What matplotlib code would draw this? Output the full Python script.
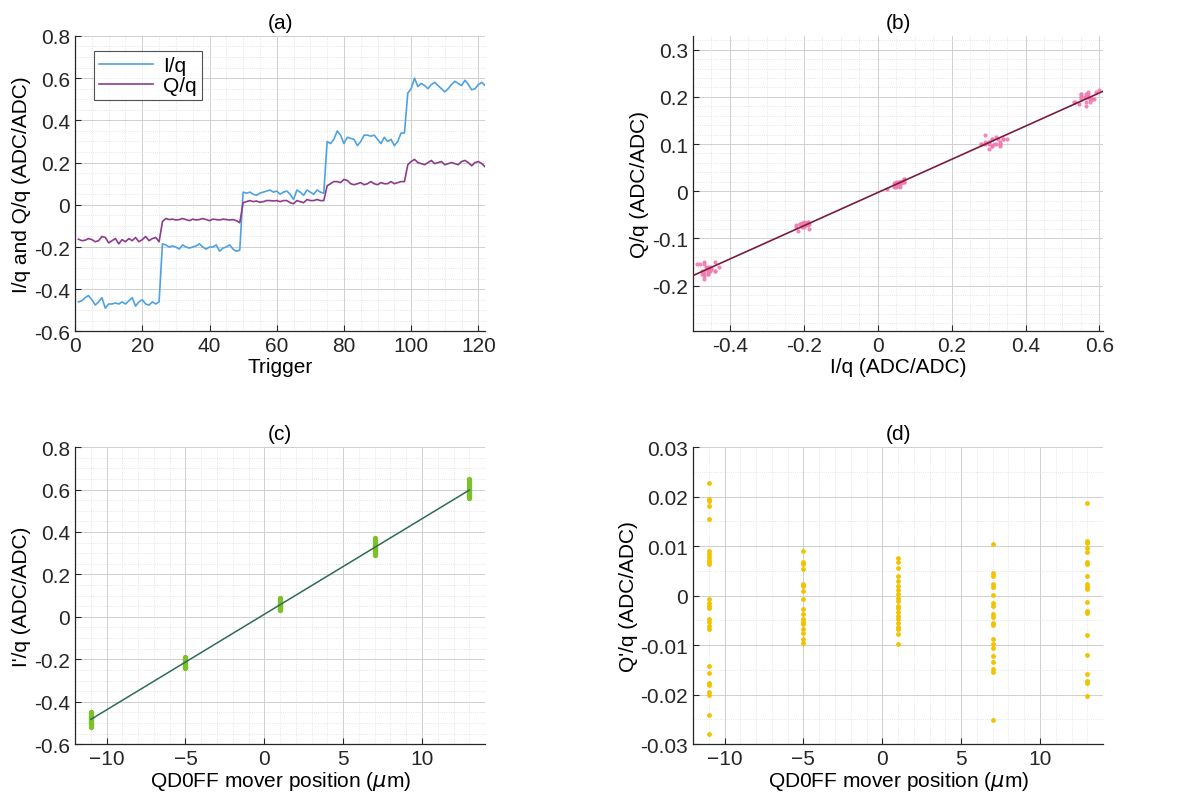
import numpy as np
import matplotlib
matplotlib.use("Agg")
import matplotlib.pyplot as plt
from matplotlib.ticker import AutoMinorLocator, MultipleLocator

plt.rcParams['font.family'] = ['Liberation Sans', 'DejaVu Sans']
plt.rcParams['font.size'] = 15

# I/q and Q/q per trigger, five mover steps
i_q = [-0.46, -0.455, -0.44, -0.43, -0.45, -0.475, -0.46, -0.44, -0.49, -0.47,
       -0.47, -0.465, -0.47, -0.46, -0.47, -0.455, -0.44, -0.48, -0.46, -0.45,
       -0.47, -0.475, -0.46, -0.47, -0.46,
       -0.185, -0.19, -0.2, -0.195, -0.2, -0.21, -0.19, -0.2, -0.205, -0.2,
       -0.195, -0.185, -0.2, -0.21, -0.2, -0.2, -0.19, -0.22, -0.205, -0.2,
       -0.19, -0.21, -0.22, -0.215,
       0.06, 0.055, 0.06, 0.05, 0.045, 0.055, 0.06, 0.065, 0.07, 0.06,
       0.065, 0.05, 0.06, 0.065, 0.05, 0.025, 0.07, 0.06, 0.045, 0.07,
       0.06, 0.05, 0.07, 0.06, 0.055,
       0.30, 0.29, 0.31, 0.35, 0.33, 0.29, 0.32, 0.315, 0.31, 0.28,
       0.30, 0.33, 0.33, 0.325, 0.33, 0.31, 0.29, 0.32, 0.30, 0.31,
       0.28, 0.30, 0.34, 0.34,
       0.53, 0.55, 0.60, 0.56, 0.575, 0.565, 0.55, 0.57, 0.58, 0.565,
       0.55, 0.535, 0.55, 0.57, 0.585, 0.575, 0.565, 0.59, 0.57, 0.545,
       0.55, 0.57, 0.58, 0.565]
q_q = [-0.163, -0.17, -0.168, -0.16, -0.165, -0.175, -0.17, -0.15, -0.155, -0.18,
       -0.17, -0.16, -0.185, -0.165, -0.175, -0.16, -0.17, -0.155, -0.175, -0.165,
       -0.15, -0.17, -0.16, -0.155, -0.175,
       -0.08, -0.065, -0.07, -0.068, -0.072, -0.07, -0.065, -0.07, -0.075, -0.068,
       -0.072, -0.07, -0.065, -0.07, -0.075, -0.068, -0.07, -0.072, -0.068, -0.07,
       -0.072, -0.07, -0.075, -0.085,
       0.01, 0.015, 0.02, 0.015, 0.018, 0.012, 0.015, 0.02, 0.02, 0.018,
       0.02, 0.015, 0.02, 0.02, 0.01, 0.005, 0.02, 0.015, 0.01, 0.025,
       0.02, 0.02, 0.025, 0.02, 0.02,
       0.09, 0.10, 0.11, 0.11, 0.105, 0.12, 0.115, 0.10, 0.095, 0.10,
       0.105, 0.095, 0.10, 0.11, 0.10, 0.095, 0.105, 0.10, 0.10, 0.11,
       0.10, 0.105, 0.11, 0.11,
       0.19, 0.205, 0.215, 0.20, 0.195, 0.19, 0.20, 0.21, 0.195, 0.20,
       0.205, 0.19, 0.195, 0.20, 0.195, 0.19, 0.205, 0.21, 0.20, 0.185,
       0.20, 0.205, 0.195, 0.18]
trigger = np.arange(1, len(i_q) + 1)

# mover positions (um) and rotated signals per position
positions = [-11, -5, 1, 7, 13]
ip_groups = [
    [-0.52, -0.51, -0.505, -0.5, -0.495, -0.49, -0.485, -0.48, -0.475, -0.47, -0.465, -0.46, -0.455, -0.45],
    [-0.24, -0.235, -0.23, -0.225, -0.22, -0.215, -0.21, -0.205, -0.2, -0.195, -0.19],
    [0.03, 0.035, 0.04, 0.045, 0.05, 0.055, 0.06, 0.065, 0.07, 0.075, 0.08, 0.085, 0.09],
    [0.29, 0.295, 0.3, 0.305, 0.31, 0.315, 0.32, 0.325, 0.33, 0.335, 0.34, 0.35, 0.36, 0.37],
    [0.56, 0.565, 0.57, 0.575, 0.58, 0.585, 0.59, 0.595, 0.6, 0.605, 0.61, 0.62, 0.63, 0.64, 0.65],
]
qp_groups = [
    [0.0228, 0.0196, 0.0191, 0.0182, 0.0155, 0.0090, 0.0085, 0.0079, 0.0072, 0.0067,
     0.0063, -0.0006, -0.0015, -0.0020, -0.0024, -0.0048, -0.0053, -0.0061, -0.0068,
     -0.0142, -0.0157, -0.0176, -0.0181, -0.0194, -0.0201, -0.0241, -0.0280],
    [0.0091, 0.0068, 0.0063, 0.0053, 0.0024, 0.0020, 0.0009, -0.0007, -0.0026, -0.0038,
     -0.0048, -0.0053, -0.0058, -0.0068, -0.0075, -0.0088, -0.0095],
    [0.0075, 0.0067, 0.0056, 0.0040, 0.0030, 0.0020, 0.0011, 0.0003, -0.0004, -0.0011,
     -0.0020, -0.0024, -0.0033, -0.0041, -0.0048, -0.0056, -0.0063, -0.0068, -0.0078, -0.0097],
    [0.0104, 0.0046, 0.0040, 0.0023, 0.0018, 0.0001, -0.0014, -0.0020, -0.0038, -0.0044,
     -0.0056, -0.0060, -0.0088, -0.0098, -0.0105, -0.0122, -0.0134, -0.0149, -0.0155, -0.0252],
    [0.0188, 0.0110, 0.0106, 0.0097, 0.0088, 0.0068, 0.0063, 0.0040, 0.0023, 0.0018,
     0.0013, -0.0013, -0.0031, -0.0036, -0.0080, -0.0120, -0.0159, -0.0172, -0.0177, -0.0202],
]

FS = 15


def style(ax, title):
    for s in ('top', 'right'):
        ax.spines[s].set_visible(False)
    for s in ('left', 'bottom'):
        ax.spines[s].set_color('#262626')
        ax.spines[s].set_linewidth(0.9)
    ax.tick_params(direction='in', length=4, colors='#262626', labelsize=FS)
    ax.tick_params(which='minor', length=0)
    ax.grid(True, which='major', color='#cfcfcf', lw=0.7)
    ax.grid(True, which='minor', color='#dedede', lw=0.6, ls=':')
    ax.set_axisbelow(True)
    ax.set_title(title, fontsize=FS, pad=6)


fig = plt.figure(figsize=(11.99, 8.03), dpi=100)
w, h = 0.342, 0.368
ax_a = fig.add_axes([0.0626, 0.586, w, h])
ax_b = fig.add_axes([0.578, 0.586, w, h])
ax_c = fig.add_axes([0.0626, 0.072, w, 0.370])
ax_d = fig.add_axes([0.578, 0.072, w, 0.370])

# (a) raw signals
ax_a.plot(trigger, i_q, color='#4ea2e4', lw=1.2, label='I/q')
ax_a.plot(trigger, q_q, color='#8c3c8c', lw=1.2, label='Q/q')
ax_a.set_xlim(0, 122)
ax_a.set_ylim(-0.6, 0.8)
ax_a.xaxis.set_major_locator(MultipleLocator(20))
ax_a.xaxis.set_minor_locator(AutoMinorLocator(4))
ax_a.set_yticks([-0.6, -0.4, -0.2, 0, 0.2, 0.4, 0.6, 0.8])
ax_a.set_yticklabels(['-0.6', '-0.4', '-0.2', '0', '0.2', '0.4', '0.6', '0.8'])
ax_a.yaxis.set_minor_locator(AutoMinorLocator(4))
ax_a.set_xlabel('Trigger', fontsize=FS, labelpad=1)
ax_a.set_ylabel('I/q and Q/q (ADC/ADC)', fontsize=FS, labelpad=2)
leg = ax_a.legend(loc='upper left', bbox_to_anchor=(0.02, 0.985), fancybox=False,
                  edgecolor='#262626', fontsize=FS, handlelength=2.6,
                  borderpad=0.25, labelspacing=0.05, handletextpad=0.5)
leg.get_frame().set_linewidth(0.8)
style(ax_a, '(a)')

# (b) Q vs I with linear fit
ax_b.scatter(i_q, q_q, s=4, color='#f27bb0', alpha=0.85, zorder=2)
coef_b = np.polyfit(i_q, q_q, 1)
xb = np.array([-0.5, 0.61])
ax_b.plot(xb, np.polyval(coef_b, xb), color='#7a1c3c', lw=1.2, zorder=3)
ax_b.set_xlim(-0.5, 0.61)
ax_b.set_ylim(-0.297, 0.329)
ax_b.set_xticks([-0.4, -0.2, 0, 0.2, 0.4, 0.6])
ax_b.set_xticklabels(['-0.4', '-0.2', '0', '0.2', '0.4', '0.6'])
ax_b.set_yticks([-0.2, -0.1, 0, 0.1, 0.2, 0.3])
ax_b.set_yticklabels(['-0.2', '-0.1', '0', '0.1', '0.2', '0.3'])
ax_b.xaxis.set_minor_locator(AutoMinorLocator(4))
ax_b.yaxis.set_minor_locator(AutoMinorLocator(5))
ax_b.set_xlabel('I/q (ADC/ADC)', fontsize=FS, labelpad=1)
ax_b.set_ylabel('Q/q (ADC/ADC)', fontsize=FS, labelpad=2)
style(ax_b, '(b)')

# (c) I' vs mover position
xc = np.concatenate([[p] * len(g) for p, g in zip(positions, ip_groups)])
yc = np.concatenate(ip_groups)
ax_c.scatter(xc, yc, s=8, color='#7cc12a', zorder=2)
coef_c = np.polyfit(xc, yc, 1)
xl = np.array([positions[0], positions[-1]])
ax_c.plot(xl, np.polyval(coef_c, xl), color='#2f6a55', lw=1.1, zorder=3)
ax_c.set_xlim(-12, 14)
ax_c.set_ylim(-0.6, 0.8)
ax_c.set_xticks([-10, -5, 0, 5, 10])
ax_c.set_yticks([-0.6, -0.4, -0.2, 0, 0.2, 0.4, 0.6, 0.8])
ax_c.set_yticklabels(['-0.6', '-0.4', '-0.2', '0', '0.2', '0.4', '0.6', '0.8'])
ax_c.xaxis.set_minor_locator(AutoMinorLocator(5))
ax_c.yaxis.set_minor_locator(AutoMinorLocator(4))
ax_c.set_xlabel(r'QD0FF mover position ($\mu$m)', fontsize=FS, labelpad=1)
ax_c.set_ylabel("I'/q (ADC/ADC)", fontsize=FS, labelpad=2)
style(ax_c, '(c)')

# (d) Q' vs mover position
xd = np.concatenate([[p] * len(g) for p, g in zip(positions, qp_groups)])
yd = np.concatenate(qp_groups)
ax_d.scatter(xd, yd, s=6, color='#f2c200', zorder=2)
ax_d.set_xlim(-12, 14)
ax_d.set_ylim(-0.03, 0.03)
ax_d.set_xticks([-10, -5, 0, 5, 10])
ax_d.set_yticks([-0.03, -0.02, -0.01, 0, 0.01, 0.02, 0.03])
ax_d.set_yticklabels(['-0.03', '-0.02', '-0.01', '0', '0.01', '0.02', '0.03'])
ax_d.xaxis.set_minor_locator(AutoMinorLocator(5))
ax_d.yaxis.set_minor_locator(AutoMinorLocator(2))
ax_d.set_xlabel(r'QD0FF mover position ($\mu$m)', fontsize=FS, labelpad=1)
ax_d.set_ylabel("Q'/q (ADC/ADC)", fontsize=FS, labelpad=2)
style(ax_d, '(d)')

fig.savefig('out.png', dpi=100)
